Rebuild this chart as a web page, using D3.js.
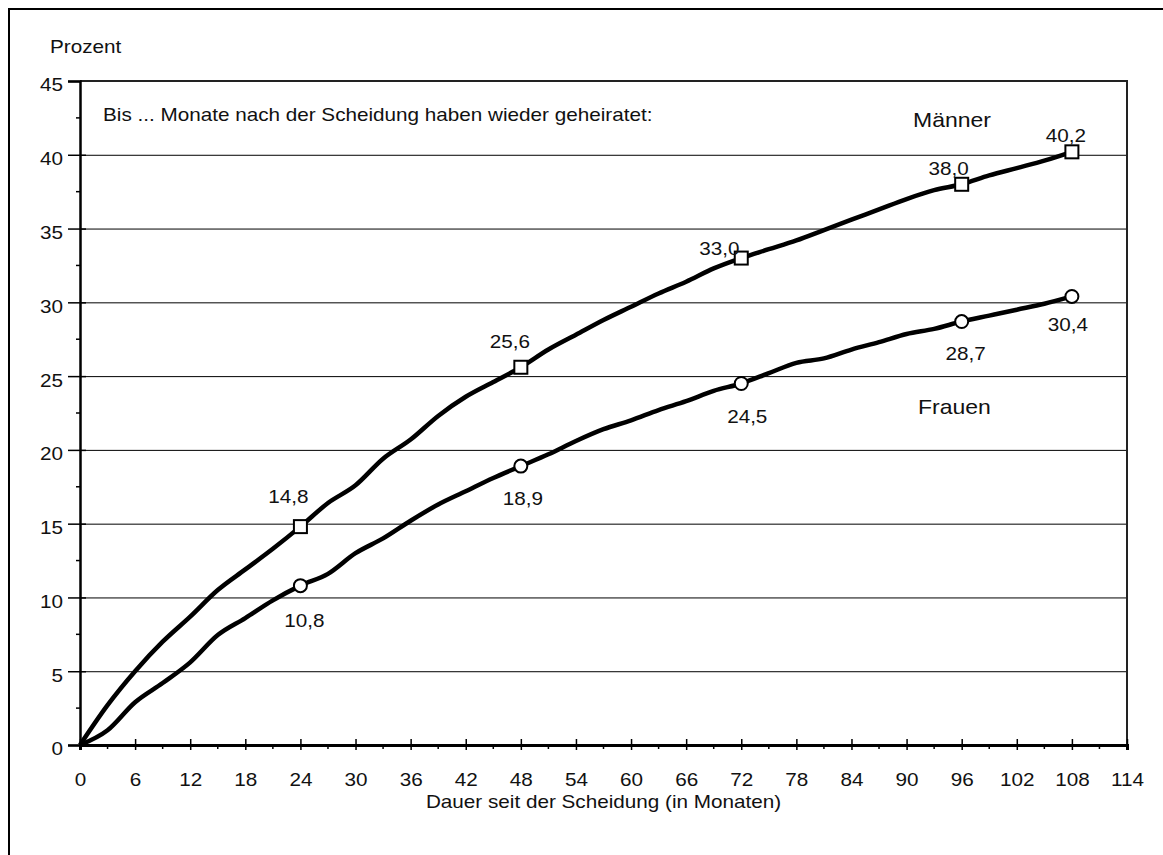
<!DOCTYPE html>
<html>
<head>
<meta charset="utf-8">
<script src="https://cdn.jsdelivr.net/npm/d3@7"></script>
<style>
  body { margin: 0; background: #fff; }
  svg text { font-family: "Liberation Sans", Arial, sans-serif; font-size: 18px; fill: #111; }
</style>
</head>
<body>
<svg id="chart" width="1163" height="855"></svg>
<script>
// months since divorce, every 3 months
var months = d3.range(0, 109, 3);
var maenner = [0, 2.7, 5.0, 7.0, 8.7, 10.5, 11.9, 13.3, 14.8, 16.4, 17.6, 19.4,
  20.7, 22.3, 23.6, 24.6, 25.6, 26.8, 27.8, 28.8, 29.7, 30.6, 31.4, 32.3,
  33.0, 33.6, 34.2, 34.9, 35.6, 36.3, 37.0, 37.6, 38.0, 38.6, 39.1, 39.6, 40.2];
var frauen = [0, 1.0, 2.9, 4.2, 5.6, 7.45, 8.6, 9.8, 10.8, 11.6, 13.0, 14.0,
  15.2, 16.3, 17.2, 18.1, 18.9, 19.7, 20.6, 21.4, 22.0, 22.7, 23.3, 24.0,
  24.5, 25.2, 25.9, 26.2, 26.8, 27.3, 27.85, 28.2, 28.7, 29.1, 29.5, 29.9, 30.4];
var markerMonths = [24, 48, 72, 96, 108];
var maennerLabels = ["14,8", "25,6", "33,0", "38,0", "40,2"];
var frauenLabels = ["10,8", "18,9", "24,5", "28,7", "30,4"];
var xTicks = d3.range(0, 115, 6);
var yTicks = d3.range(0, 46, 5);

// label offsets (px) relative to the marker
var maennerOffsets = [[-12, -24], [-11, -19], [-22, -3], [-13, -9], [-6, -10]];
var frauenOffsets = [[4, 41], [2, 39], [6, 40], [4, 38], [-4, 35]];

var SX = 1.15; // the reference text is a bit wider than plain Arial
var svg = d3.select("#chart");
var pLeft = 80, pRight = 1127, pTop = 81, pBottom = 745;

var x = d3.scaleLinear().domain([0, 114]).range([pLeft, pRight]);
var y = d3.scaleLinear().domain([0, 45]).range([pBottom, pTop]);

// stretch text horizontally around its own anchor
function stretch(sel) {
    sel.each(function () {
        var t = d3.select(this);
        var tx = +t.attr("x") || 0;
        t.attr("x", tx / SX).attr("transform", "scale(" + SX + ",1)");
    });
}

// outer frame
svg.append("path")
    .attr("d", "M9,856V9H1164")
    .attr("fill", "none").attr("stroke", "#000").attr("stroke-width", 2);

// gridlines
svg.append("g").selectAll("line")
    .data(yTicks.filter(function (d) { return d > 0 && d < 45; }))
    .join("line")
    .attr("x1", pLeft).attr("x2", pRight)
    .attr("y1", function (d) { return y(d) + 0.5; })
    .attr("y2", function (d) { return y(d) + 0.5; })
    .attr("stroke", "#000").attr("stroke-width", 1);

// plot border top / right
svg.append("path")
    .attr("d", "M" + pLeft + "," + pTop + "H" + pRight + "V" + pBottom)
    .attr("fill", "none").attr("stroke", "#222").attr("stroke-width", 2);

// y axis
var yAxis = d3.axisLeft(y).tickValues(yTicks).tickSize(12).tickPadding(5)
    .tickFormat(d3.format("d"));
var gy = svg.append("g").attr("transform", "translate(" + pLeft + ",0)").call(yAxis);
gy.attr("font-size", null).attr("font-family", null);
gy.select(".domain").attr("stroke", "#000").attr("stroke-width", 2.5);
gy.selectAll(".tick line").attr("stroke-width", 1.5)
    .attr("x2", function (d) { return (d > 0 && d < 45) ? 6 : -12; })
    .attr("x1", function (d) { return (d > 0 && d < 45) ? -12 : 0; });
gy.selectAll(".tick text").attr("x", -17).attr("dy", "0.55em").call(stretch);
svg.append("g").selectAll("line")
    .data(d3.range(2.5, 45, 5))
    .join("line")
    .attr("x1", pLeft - 4).attr("x2", pLeft)
    .attr("y1", function (d) { return y(d); }).attr("y2", function (d) { return y(d); })
    .attr("stroke", "#000").attr("stroke-width", 1.5);

// x axis
var xAxis = d3.axisBottom(x).tickValues(xTicks).tickSize(5).tickPadding(0)
    .tickFormat(d3.format("d"));
var gx = svg.append("g").attr("transform", "translate(0," + pBottom + ")").call(xAxis);
gx.attr("font-size", null).attr("font-family", null);
gx.select(".domain").attr("stroke", "#000").attr("stroke-width", 3);
gx.selectAll(".tick line").attr("y1", -6).attr("stroke-width", 1.5);
gx.selectAll(".tick text").attr("y", 41).attr("dy", null).call(stretch);
svg.append("g").selectAll("line")
    .data(d3.range(3, 114, 6))
    .join("line")
    .attr("x1", function (d) { return x(d); }).attr("x2", function (d) { return x(d); })
    .attr("y1", pBottom).attr("y2", pBottom + 4)
    .attr("stroke", "#000").attr("stroke-width", 1.5);

// lines
var line = d3.line()
    .x(function (d) { return x(d[0]); })
    .y(function (d) { return y(d[1]); })
    .curve(d3.curveMonotoneX);

function pairs(vals) {
    return months.map(function (m, i) { return [m, vals[i]]; });
}
function valueAt(vals, m) { return vals[months.indexOf(m)]; }

[maenner, frauen].forEach(function (vals) {
    svg.append("path")
        .datum(pairs(vals))
        .attr("d", line)
        .attr("fill", "none").attr("stroke", "#000")
        .attr("stroke-width", 4.5).attr("stroke-linejoin", "round");
});

// markers
svg.append("g").selectAll("rect")
    .data(markerMonths)
    .join("rect")
    .attr("x", function (d) { return x(d) - 6.5; })
    .attr("y", function (d) { return y(valueAt(maenner, d)) - 6.5; })
    .attr("width", 13).attr("height", 13)
    .attr("fill", "#fff").attr("stroke", "#000").attr("stroke-width", 2);

svg.append("g").selectAll("circle")
    .data(markerMonths)
    .join("circle")
    .attr("cx", function (d) { return x(d); })
    .attr("cy", function (d) { return y(valueAt(frauen, d)); })
    .attr("r", 6.5)
    .attr("fill", "#fff").attr("stroke", "#000").attr("stroke-width", 2);

// value labels
svg.append("g").selectAll("text")
    .data(markerMonths)
    .join("text")
    .attr("text-anchor", "middle")
    .attr("x", function (d, i) { return x(d) + maennerOffsets[i][0]; })
    .attr("y", function (d, i) { return y(valueAt(maenner, d)) + maennerOffsets[i][1]; })
    .text(function (d, i) { return maennerLabels[i]; })
    .call(stretch);

svg.append("g").selectAll("text")
    .data(markerMonths)
    .join("text")
    .attr("text-anchor", "middle")
    .attr("x", function (d, i) { return x(d) + frauenOffsets[i][0]; })
    .attr("y", function (d, i) { return y(valueAt(frauen, d)) + frauenOffsets[i][1]; })
    .text(function (d, i) { return frauenLabels[i]; })
    .call(stretch);

// titles and notes
var notes = svg.append("g");
notes.append("text").attr("x", 50).attr("y", 53).text("Prozent");
notes.append("text").attr("x", 103).attr("y", 121)
    .text("Bis ... Monate nach der Scheidung haben wieder geheiratet:");
notes.append("text").attr("x", 913).attr("y", 127).style("font-size", "20px").text("Männer");
notes.append("text").attr("x", 918).attr("y", 414).style("font-size", "20px").text("Frauen");
notes.append("text").attr("x", (pLeft + pRight) / 2).attr("y", 808)
    .attr("text-anchor", "middle")
    .text("Dauer seit der Scheidung (in Monaten)");
notes.selectAll("text").call(stretch);
</script>
</body>
</html>
